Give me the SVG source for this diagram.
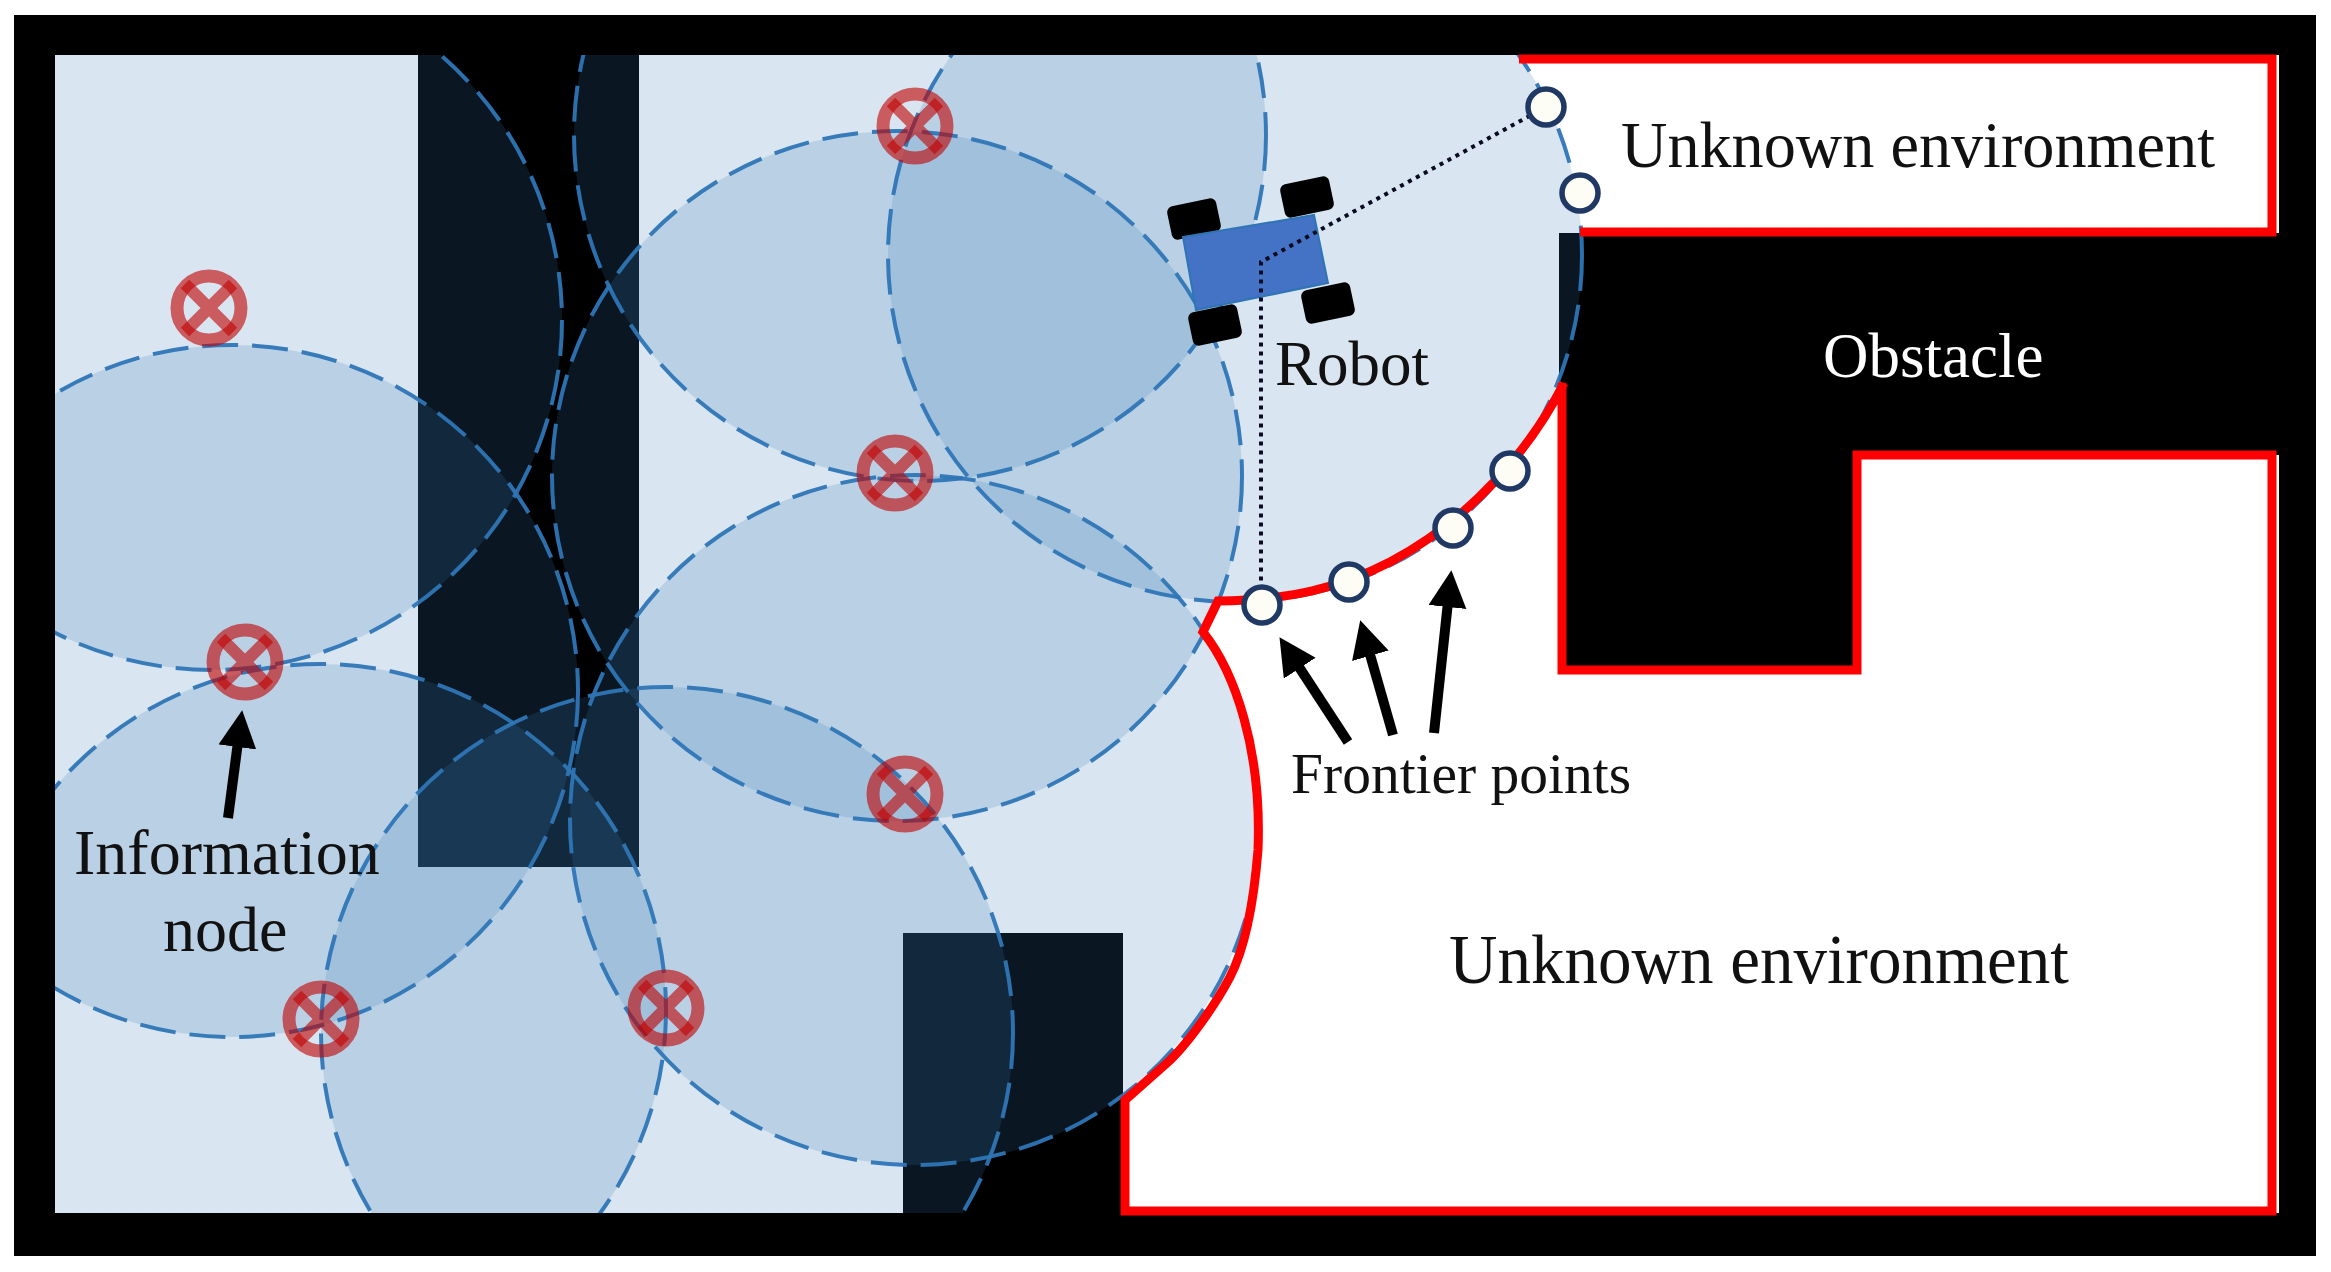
<svg xmlns="http://www.w3.org/2000/svg" width="2331" height="1272" viewBox="0 0 2331 1272">
<style>
.cov{fill:rgb(55,120,180);fill-opacity:.19;stroke:#2e75b6;stroke-width:4;stroke-dasharray:36 14;stroke-opacity:.95}
.red{fill:none;stroke:#ff0000;stroke-width:9}
.obs{fill:#000}
.ring{fill:none;stroke:#c00000;stroke-opacity:.6;stroke-width:13}
.x{stroke:#c00000;stroke-opacity:.6;stroke-width:12;fill:none}
.fp{fill:#fdfdf6;stroke:#1f3864;stroke-width:5.5}
.wheel{fill:#000}
.arr{stroke:#000;stroke-width:10;fill:none;marker-end:url(#head)}
.dot{fill:none;stroke:#0a0a20;stroke-width:4;stroke-dasharray:4 5}
text{font-family:"Liberation Serif","Times New Roman",serif;fill:#111}
</style>
<defs>
<clipPath id="inner"><rect x="55" y="55" width="2224" height="1158"/></clipPath>
<marker id="head" markerUnits="userSpaceOnUse" markerWidth="40" markerHeight="40" refX="5" refY="19" orient="auto"><path d="M0,0L37,19L0,38z" fill="#000"/></marker>
<g id="xn"><circle r="32" class="ring"/><path class="x" d="M-24,-24L24,24M24,-24L-24,24"/></g>
</defs>
<rect width="2331" height="1272" fill="#fff"/>
<rect x="14" y="15" width="2302" height="1241" fill="#000"/>
<g id="environment">
<rect x="55" y="55" width="2224" height="1158" fill="#fff"/>
<rect class="obs" x="418" y="55" width="221" height="812"/>
<rect class="obs" x="903" y="933" width="220" height="280"/>
<path class="obs" d="M1559,233H2279V455H1857V672H1559z"/>
</g>
<g id="coverage" clip-path="url(#inner)">
<circle class="cov" cx="212" cy="320" r="350"/>
<circle class="cov" cx="232" cy="691" r="346"/>
<circle class="cov" cx="320" cy="1010" r="346"/>
<circle class="cov" cx="667" cy="1033" r="346"/>
<circle class="cov" cx="915" cy="820" r="345"/>
<circle class="cov" cx="897" cy="476" r="345"/>
<circle class="cov" cx="920" cy="135" r="346"/>
<circle class="cov" cx="1235" cy="255" r="347"/>
</g>
<g id="frontier-boundary">
<path class="red" d="M1519,59H2272V232H1580"/>
<path class="red" d="M1564,383C1530,450 1470,520 1390,562C1340,588 1290,600 1218,601L1203,632C1235,672 1262,750 1258,850C1254,900 1245,948 1230,977C1216,1004 1187,1045 1167,1063L1125,1100V1211H2272V455H1857V670H1562V383"/>
</g>
<g id="robot">
<g id="wheels">
<rect class="wheel" x="-25" y="-17" width="50" height="34" rx="6" transform="translate(1194,219) rotate(-12)"/>
<rect class="wheel" x="-25" y="-17" width="50" height="34" rx="6" transform="translate(1307,197) rotate(-12)"/>
<rect class="wheel" x="-25" y="-17" width="50" height="34" rx="6" transform="translate(1328,303) rotate(-12)"/>
<rect class="wheel" x="-25" y="-17" width="50" height="34" rx="6" transform="translate(1215,325) rotate(-12)"/>
</g>
<path id="robot-body" d="M1183,237L1314,215L1328,283L1196,310z" fill="#4472c4" stroke="#2e75b6" stroke-width="2"/>
</g>
<g id="connectors">
<path class="dot" d="M1546,107L1261,262V604"/>
<path class="arr" d="M1348,742L1297,664"/>
<path class="arr" d="M1393,735L1369,651"/>
<path class="arr" d="M1434,733L1448,602"/>
<path class="arr" d="M228,818L238,742"/>
</g>
<g id="information-nodes">
<use id="n1" href="#xn" x="209" y="308"/>
<use id="n2" href="#xn" x="245" y="662"/>
<use id="n3" href="#xn" x="321" y="1019"/>
<use id="n4" href="#xn" x="666" y="1008"/>
<use id="n5" href="#xn" x="905" y="794"/>
<use id="n6" href="#xn" x="895" y="473"/>
<use id="n7" href="#xn" x="915" y="126"/>
</g>
<g id="frontier-points">
<circle class="fp" cx="1546" cy="107" r="18"/>
<circle class="fp" cx="1580" cy="193" r="18"/>
<circle class="fp" cx="1510" cy="471" r="18"/>
<circle class="fp" cx="1453" cy="528" r="18"/>
<circle class="fp" cx="1349" cy="582" r="18"/>
<circle class="fp" cx="1262" cy="605" r="18"/>
</g>
<g id="labels">
<text x="1621" y="167" font-size="66" textLength="594" lengthAdjust="spacingAndGlyphs">Unknown environment</text>
<text x="1449" y="983" font-size="69" textLength="620" lengthAdjust="spacingAndGlyphs">Unknown environment</text>
<text x="1823" y="377" font-size="63" style="fill:#fff">Obstacle</text>
<text x="1275" y="385" font-size="63">Robot</text>
<text x="1291" y="793" font-size="57.5">Frontier points</text>
<text x="74" y="874" font-size="64">Information</text>
<text x="163" y="951" font-size="64">node</text>
</g>
</svg>
